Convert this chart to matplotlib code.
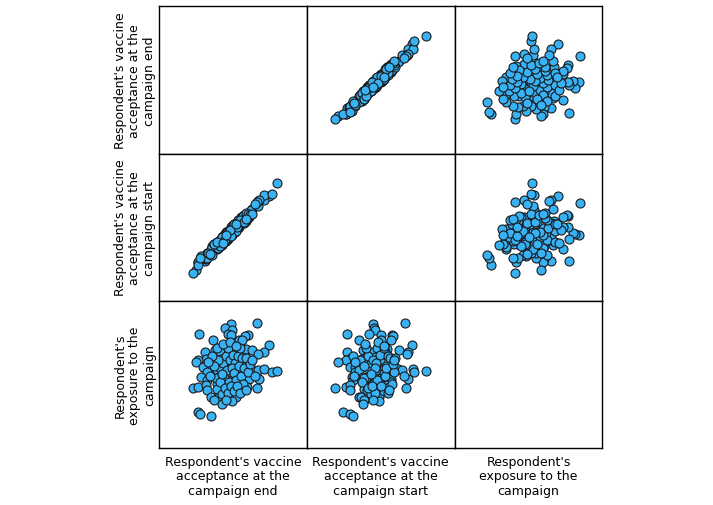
import matplotlib.pyplot as plt

# Variables of the scatter matrix (arbitrary scale)
# fmt: off
accept_end = [97, 71, 65, 72, 40, 68, 71, 88, 85, 79, 82, 53, 109, 72, 86, 92, 104, 98, 45, 55,
              60, 69, 76, 46, 39, 37, 52, 61, 67, 78, 84, 44, 52, 66, 72, 91, 98, 104, 112, 117,
              47, 57, 64, 71, 79, 84, 42, 59, 74, 89, 99, 47, 66, 81, 34, 39, 46, 57, 62, 71,
              79, 87, 97, 47, 57, 66, 72, 77, 51, 59, 62, 69, 76, 54, 62, 72, 39, 41, 51,
              60, 63, 66, 68, 70, 73, 75, 78, 80, 82, 64, 67, 69, 72, 74, 76, 79, 81, 83, 58,
              56, 60, 62, 65, 68, 71, 74, 77, 80, 84, 86, 88, 90, 54, 52, 48, 50, 57, 63, 70,
              76, 92, 95, 86, 66]
accept_start = [98, 66, 67, 68, 40, 62, 74, 85, 86, 74, 84, 52, 105, 75, 80, 92, 101, 100, 40, 56,
                61, 64, 78, 42, 39, 31, 55, 58, 68, 73, 86, 43, 48, 69, 66, 91, 95, 106, 107, 118,
                48, 52, 66, 67, 79, 78, 45, 56, 75, 84, 101, 46, 62, 84, 28, 39, 43, 59, 57, 72,
                80, 82, 99, 43, 57, 60, 75, 74, 52, 54, 64, 68, 72, 57, 56, 72, 36, 43, 46,
                61, 64, 61, 70, 66, 73, 69, 81, 77, 83, 59, 69, 68, 68, 77, 70, 79, 78, 85, 53,
                57, 55, 64, 61, 68, 65, 77, 74, 81, 79, 88, 87, 86, 57, 46, 48, 47, 59, 58, 71,
                77, 87, 97, 82, 66]
exposure = [125, 124, 120, 118, 114, 114, 113, 113, 112, 108, 108, 108, 103, 100, 99, 98, 96, 94, 96, 98,
            96, 96, 96, 89, 88, 86, 89, 89, 91, 88, 84, 81, 81, 83, 81, 79, 78, 79, 76, 77,
            76, 78, 76, 74, 78, 74, 71, 71, 71, 69, 69, 68, 68, 66, 60, 61, 63, 64, 63, 63,
            63, 61, 60, 58, 59, 58, 58, 56, 51, 51, 54, 49, 51, 48, 44, 47, 36, 34, 32,
            80, 85, 92, 100, 88, 93, 85, 92, 100, 90, 70, 78, 66, 80, 75, 68, 82, 72, 64, 88,
            70, 66, 74, 60, 55, 62, 57, 62, 55, 80, 90, 76, 84, 82, 92, 86, 72, 100, 104, 106,
            102, 88, 72, 58, 48]
# fmt: on

variables = [accept_end, accept_start, exposure]
labels = [
    "Respondent's vaccine\nacceptance at the\ncampaign end",
    "Respondent's vaccine\nacceptance at the\ncampaign start",
    "Respondent's\nexposure to the\ncampaign",
]

W, H = 713, 506
fig, axes = plt.subplots(3, 3, figsize=(W / 100, H / 100), dpi=100,
                         gridspec_kw=dict(wspace=0, hspace=0))
fig.subplots_adjust(left=159.3 / W, right=602.3 / W, top=1 - 7.3 / H, bottom=1 - 449 / H)

for i in range(3):
    for j in range(3):
        ax = axes[i, j]
        if i != j:
            ax.scatter(variables[j], variables[i], s=42, color="#38b2f5",
                       edgecolors="#1a1a1a", linewidths=0.8, zorder=3)
        ax.set_xlim(0, 147)
        ax.set_ylim(0, 147)
        ax.set_xticks([])
        ax.set_yticks([])
        for sp in ax.spines.values():
            sp.set_color("black")
            sp.set_linewidth(1)

for k, lab in enumerate(labels):
    axes[2, k].text(0.5, -0.19, lab, transform=axes[2, k].transAxes, ha="center",
                    va="center", fontsize=9, linespacing=1.15)
    axes[k, 0].text(-0.165, 0.5, lab, transform=axes[k, 0].transAxes, ha="center",
                    va="center", rotation=90, fontsize=9, linespacing=1.15)

fig.savefig("out.png", dpi=100)
